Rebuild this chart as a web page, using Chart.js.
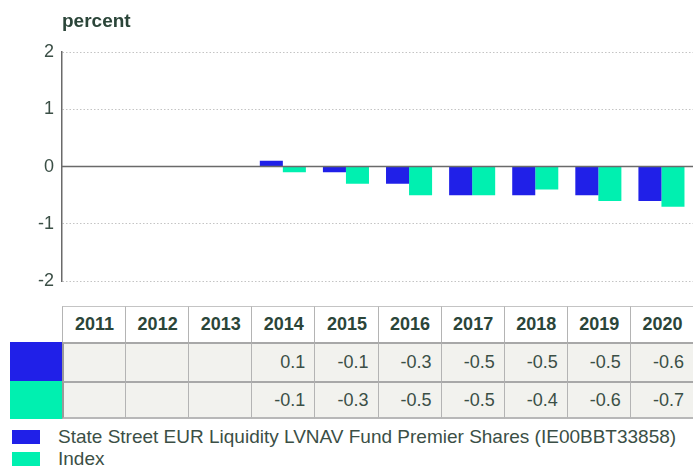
<!DOCTYPE html>
<html>
<head>
<meta charset="utf-8">
<script src="https://cdn.jsdelivr.net/npm/chart.js@4.4.0/dist/chart.umd.min.js"></script>
<style>
  body { margin: 0; background: #fff; font-family: "Liberation Sans", Arial, sans-serif; color: #2b4539; }
  #wrap { position: relative; width: 693px; height: 466px; overflow: hidden; }
  #cv { position: absolute; left: 0; top: 0; }
  .cell { position: absolute; box-sizing: border-box; font-size: 18px; display: flex; align-items: center; }
  .lg { position: absolute; font-size: 19px; line-height: 20px; white-space: nowrap; }
  .sw { position: absolute; }
</style>
</head>
<body>
<div id="wrap">
  <canvas id="cv" width="693" height="300"></canvas>
</div>
<script>
var years = ['2011', '2012', '2013', '2014', '2015', '2016', '2017', '2018', '2019', '2020'];
var fundValues = [null, null, null, 0.1, -0.1, -0.3, -0.5, -0.5, -0.5, -0.6];
var indexValues = [null, null, null, -0.1, -0.3, -0.5, -0.5, -0.4, -0.6, -0.7];
var seriesNames = ['State Street EUR Liquidity LVNAV Fund Premier Shares (IE00BBT33858)', 'Index'];
var seriesColors = ['#2020e8', '#00f0b0'];
var yTicks = [-2, -1, 0, 1, 2];

var textColor = '#2b4539';

// ligne zero + titre "percent"
const extras = {
  id: 'extras',
  afterDatasetsDraw(chart) {
    const ctx = chart.ctx;
    const y = chart.scales.y.getPixelForValue(0);
    ctx.save();
    ctx.strokeStyle = '#6a6a6a';
    ctx.lineWidth = 1.5;
    ctx.beginPath();
    ctx.moveTo(chart.chartArea.left, y);
    ctx.lineTo(chart.chartArea.right, y);
    ctx.stroke();
    ctx.fillStyle = textColor;
    ctx.font = 'bold 19px "Liberation Sans", Arial, sans-serif';
    ctx.textBaseline = 'alphabetic';
    ctx.fillText('percent', 62, 27);
    ctx.restore();
  }
};

const ctx = document.getElementById('cv').getContext('2d');
const myChart = new Chart(ctx, {
  type: 'bar',
  data: {
    labels: years,
    datasets: [{
      label: seriesNames[0],
      data: fundValues,
      backgroundColor: seriesColors[0]
    }, {
      label: seriesNames[1],
      data: indexValues,
      backgroundColor: seriesColors[1]
    }]
  },
  options: {
    responsive: false,
    animation: false,
    layout: { padding: { top: 52, bottom: 18, left: 0, right: 0 } },
    datasets: { bar: { barPercentage: 1, categoryPercentage: 0.73 } },
    plugins: { legend: { display: false }, tooltip: { enabled: false } },
    scales: {
      x: { display: false },
      y: {
        min: -2, max: 2,
        afterBuildTicks: (axis) => { axis.ticks = yTicks.map(v => ({ value: v })); },
        afterFit: (axis) => { axis.width = 62; },
        ticks: {
          color: '#3b4f46',
          padding: 8,
          font: { family: '"Liberation Sans", Arial, sans-serif', size: 18 }
        },
        grid: { color: '#c4c4c4', drawTicks: false, lineWidth: 1 },
        border: { display: true, color: '#6a6a6a', width: 1.5, dash: [1.5, 2] }
      }
    }
  },
  plugins: [extras]
});

// tableau sous le graphique, aligné sur l'axe x
const wrap = document.getElementById('wrap');
const xs = myChart.scales.x;
const colW = (myChart.chartArea.right - myChart.chartArea.left) / years.length;
const rowTops = [306, 342, 381];
const rowHs = [36, 39, 38];
const rows = [years, fundValues, indexValues];

function addCell(left, top, w, h, text, styles) {
  const d = document.createElement('div');
  d.className = 'cell';
  d.style.left = left + 'px';
  d.style.top = top + 'px';
  d.style.width = w + 'px';
  d.style.height = h + 'px';
  Object.assign(d.style, styles);
  d.textContent = text;
  wrap.appendChild(d);
}

years.forEach((yr, i) => {
  const left = xs.getPixelForValue(i) - colW / 2;
  rows.forEach((r, k) => {
    const isHead = k === 0;
    const val = r[i];
    addCell(left, rowTops[k], colW + 1, rowHs[k],
      val === null ? '' : (isHead ? val : val.toFixed(1)), {
        background: isHead ? '#ffffff' : '#f2f2ee',
        borderLeft: (i === 0 && !isHead) ? '2px solid #9a9a9a' : '1px solid #b4b4b4',
        borderTop: isHead ? '1px solid #c4c4c4' : '2px solid #a8a8a8',
        borderBottom: k === 2 ? '2px solid #b8b8b8' : 'none',
        justifyContent: isHead ? 'center' : 'flex-end',
        paddingRight: isHead ? '0' : '10px',
        fontWeight: isHead ? 'bold' : 'normal',
        color: isHead ? textColor : '#3b4f46'
      });
  });
});

// carrés de couleur à gauche des lignes
seriesColors.forEach((c, k) => {
  const s = document.createElement('div');
  s.className = 'sw';
  s.style.left = '10px';
  s.style.top = rowTops[k + 1] + 'px';
  s.style.width = '52px';
  s.style.height = rowHs[k + 1] + 'px';
  s.style.background = c;
  wrap.appendChild(s);
});

// légende
seriesNames.forEach((name, k) => {
  const s = document.createElement('div');
  s.className = 'sw';
  s.style.left = '12px';
  s.style.top = (430 + k * 22) + 'px';
  s.style.width = '28px';
  s.style.height = '14px';
  s.style.background = seriesColors[k];
  wrap.appendChild(s);
  const t = document.createElement('div');
  t.className = 'lg';
  t.style.left = '58px';
  t.style.top = (427 + k * 22) + 'px';
  t.style.color = '#3b4f46';
  t.textContent = name;
  wrap.appendChild(t);
});
</script>
</body>
</html>
